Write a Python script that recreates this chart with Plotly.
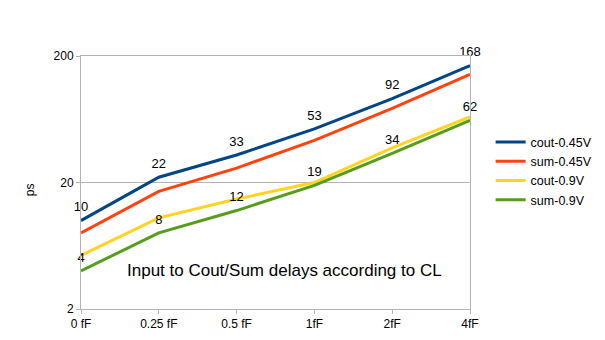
import plotly.graph_objects as go

# Data
loads = ['0 fF', '0.25 fF', '0.5 fF', '1fF', '2fF', '4fF']
cout_045 = [10, 22, 33, 53, 92, 168]
sum_045 = [8, 17, 26, 43, 77, 143]
cout_09 = [5.3, 10.5, 14.8, 20, 37.5, 66]
sum_09 = [4, 8, 12, 19, 34, 62]

series = [
    ('cout-0.45V', cout_045, '#004586', True),
    ('sum-0.45V', sum_045, '#ff420e', False),
    ('cout-0.9V', cout_09, '#ffd320', False),
    ('sum-0.9V', sum_09, '#579d1c', True),
]

FONT = 'Liberation Sans, Arial, sans-serif'

fig = go.Figure()
for name, vals, color, labelled in series:
    fig.add_trace(go.Scatter(
        x=loads,
        y=vals,
        name=name,
        mode='lines+markers+text' if labelled else 'lines',
        # transparent markers just push the value labels up a little
        marker=dict(size=8, color='rgba(0,0,0,0)', line=dict(width=0)),
        text=[str(v) for v in vals] if labelled else None,
        textposition='top center',
        textfont=dict(size=13, color='black', family=FONT),
        line=dict(color=color, width=3),
        cliponaxis=False,
    ))

fig.add_annotation(
    x=0.522, y=0.107, xref='paper', yref='paper',
    text='Input to Cout/Sum delays according to CL',
    showarrow=False,
    font=dict(size=17, color='black', family=FONT),
)
# y axis title
fig.add_annotation(
    x=-0.131, y=0.47, xref='paper', yref='paper',
    xanchor='center', yanchor='middle',
    text='ps', textangle=-90,
    showarrow=False,
    font=dict(size=12, color='black', family=FONT),
)

# the page body adds an 8px offset, so the figure is a bit smaller
fig.update_layout(
    width=597,
    height=332,
    margin=dict(l=73, r=135, t=48, b=31, autoexpand=False),
    plot_bgcolor='white',
    paper_bgcolor='white',
    font=dict(family=FONT, size=12, color='black'),
    legend=dict(
        x=1.053, y=0.718, xanchor='left', yanchor='top',
        font=dict(size=12.5),
        tracegroupgap=0,
        itemwidth=30,
    ),
    xaxis=dict(
        type='category',
        range=[0, 5],
        automargin=False,
        showgrid=False,
        showline=True,
        linecolor='#b3b3b3',
        mirror=True,
        ticks='outside',
        ticklen=4,
        tickcolor='#b3b3b3',
        tickfont=dict(size=12),
    ),
    yaxis=dict(
        type='log',
        range=[0.30103, 2.30103],
        automargin=False,
        tickvals=[2, 20, 200],
        ticktext=['2', '20', '200'],
        showgrid=True,
        gridcolor='#b3b3b3',
        showline=True,
        linecolor='#b3b3b3',
        mirror=True,
        ticks='outside',
        ticklen=4,
        tickcolor='#b3b3b3',
        tickfont=dict(size=12),
    ),
)

fig.write_html('out.html')
